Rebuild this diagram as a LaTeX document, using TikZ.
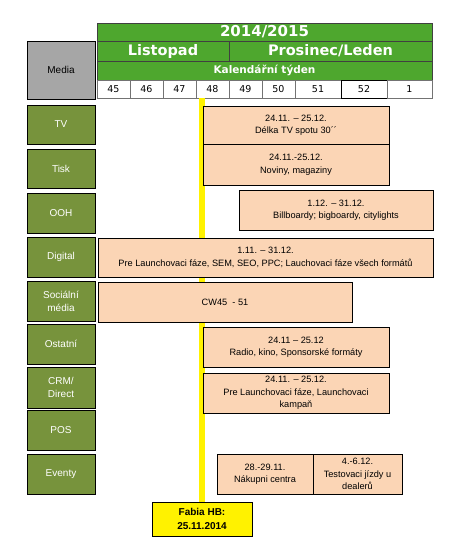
\documentclass[tikz,border=0pt]{standalone}
\usepackage{fontspec}
\setmainfont{Liberation Sans}
\newfontfamily\headfont{DejaVu Sans}
\usepackage{xcolor}
\usetikzlibrary{positioning}

\definecolor{hdrgreen}{HTML}{4EA72E}
\definecolor{olivebox}{HTML}{77933C}
\definecolor{peach}{HTML}{FBD5B5}
\definecolor{mediagray}{HTML}{A6A6A6}

% style, name, x1, y1, x2, y2, text (pixel coordinates)
\newcommand{\cellbox}[7]{%
  \node[#1, minimum width={(#5-#3)*1pt}, minimum height={(#6-#4)*1pt}]
    (#2) at ({(#3+#5)/2},{(#4+#6)/2}) {#7};}

\begin{document}
\begin{tikzpicture}[x=1pt, y=-1pt,
    hdr/.style={draw=black!75, fill=hdrgreen, text=white, inner sep=0pt, font=\headfont\bfseries},
    weekcell/.style={draw=black!55, fill=white, inner sep=0pt, font=\headfont\fontsize{9.5}{11}\selectfont},
    medium/.style={draw=black, line width=0.9pt, fill=olivebox, text=white, inner sep=0pt, align=center,
      font=\fontsize{10}{13}\selectfont},
    bar/.style={draw=black, line width=0.8pt, fill=peach, inner sep=0pt, align=center,
      font=\fontsize{9.2}{12.5}\selectfont},
    launch/.style={draw=black, line width=0.8pt, fill=yellow, inner sep=0pt, align=center,
      font=\bfseries\fontsize{10}{14}\selectfont},
    launchline/.style={draw=yellow, line width=6pt}]
    \useasboundingbox (0,0) rectangle (456,544);

    % Header
    \cellbox{hdr, font=\headfont\bfseries\fontsize{15}{16}\selectfont}{year}{97}{23}{432}{41}{2014/2015}
    \cellbox{hdr, font=\headfont\bfseries\fontsize{14.5}{16}\selectfont}{nov}{97}{41}{229}{61}{Listopad}
    \cellbox{hdr, font=\headfont\bfseries\fontsize{14.5}{16}\selectfont}{dec}{229}{41}{432}{61}{Prosinec/Leden}
    \cellbox{hdr, font=\headfont\bfseries\fontsize{10.5}{12}\selectfont}{kw}{97}{61}{432}{80}{Kalendářní týden}
    \foreach \wk/\xa/\xb in {45/97/130, 46/130/163, 47/163/196, 48/196/229, 49/229/262,
                             50/262/295, 51/295/341} {
        \cellbox{weekcell}{w\wk}{\xa}{80}{\xb}{98}{\wk}
    }
    \cellbox{weekcell, draw=black}{w52}{341}{80}{387}{98}{52}
    \cellbox{weekcell}{w1}{387}{80}{432}{98}{1}
    \cellbox{medium, fill=mediagray, text=black}{media}{27}{41}{95}{99}{Media}

    % Media types
    \cellbox{medium}{tv}{27}{105}{95}{144}{TV}
    \cellbox{medium}{tisk}{27}{149}{95}{188}{Tisk}
    \cellbox{medium}{ooh}{27}{193}{95}{233}{OOH}
    \cellbox{medium}{digital}{27}{237}{95}{277}{Digital}
    \cellbox{medium}{social}{27}{281}{95}{321}{Sociální\\média}
    \cellbox{medium}{ostatni}{27}{324}{95}{364}{Ostatní}
    \cellbox{medium}{crm}{27}{367}{95}{408}{CRM/\\Direct}
    \cellbox{medium}{pos}{27}{410}{95}{450}{POS}
    \cellbox{medium}{eventy}{27}{454}{95}{494}{Eventy}

    % Launch date
    \cellbox{launch}{fabia}{152}{502}{252}{536}{Fabia HB:\\25.11.2014}
    \draw[launchline] (fabia.north) -- (fabia.north |- w48.south);

    % Campaign periods
    \cellbox{bar}{tvbar}{203}{106}{389}{144}{24.11. – 25.12.\\Délka TV spotu 30´´}
    \cellbox{bar}{tiskbar}{203}{144}{389}{185}{24.11.-25.12.\\Noviny, magaziny}
    \cellbox{bar}{oohbar}{239}{190}{433}{230}{1.12. – 31.12.\\Billboardy; bigboardy, citylights}
    \cellbox{bar}{digbar}{98}{238}{433}{277}{1.11. – 31.12.\\Pre Launchovaci fáze, SEM, SEO, PPC; Lauchovaci fáze všech formátů}
    \cellbox{bar}{socbar}{98}{282}{352}{322}{CW45\ \ - 51}
    \cellbox{bar}{ostbar}{203}{327}{389}{367}{24.11 – 25.12\\Radio, kino, Sponsorské formáty}
    \cellbox{bar}{crmbar}{203}{373}{389}{413}{24.11. – 25.12.\\Pre Launchovaci fáze, Launchovaci\\kampaň}
    \cellbox{bar}{evbarA}{217}{454}{313}{494}{28.-29.11.\\Nákupni centra}
    \cellbox{bar}{evbarB}{313}{454}{402}{494}{4.-6.12.\\Testovaci jízdy u\\dealerů}
\end{tikzpicture}
\end{document}
